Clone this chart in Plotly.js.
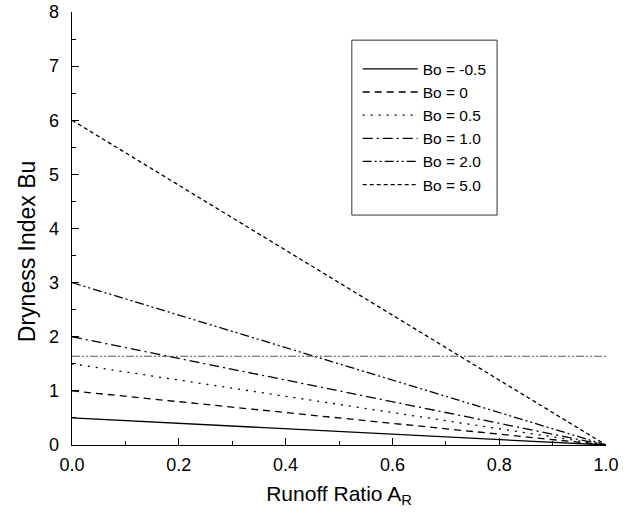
<!DOCTYPE html>
<html><head><meta charset="utf-8">
<script src="https://cdn.plot.ly/plotly-3.0.1.min.js"></script>
<style>html,body{margin:0;padding:0;background:#fff}#c{width:637px;height:514px}</style>
</head><body><div id="c"></div>
<script>
const runoffRatio = [0.0, 1.0];
const boLabels = ["Bo = -0.5", "Bo = 0", "Bo = 0.5", "Bo = 1.0", "Bo = 2.0", "Bo = 5.0"];
const buBoNeg05 = [0.5, 0.0];
const buBo0 = [1.0, 0.0];
const buBo05 = [1.5, 0.0];
const buBo1 = [2.0, 0.0];
const buBo2 = [3.0, 0.0];
const buBo5 = [6.0, 0.0];
const refLineX = [0.0, 1.0];
const refLineY = [1.64, 1.64];
const yTitle = "Dryness Index Bu";
const xTitle = "Runoff Ratio A<sub>R</sub>";

const series = [buBoNeg05, buBo0, buBo05, buBo1, buBo2, buBo5];
const dashes = ["solid", "7px,5px", "2px,6px", "10px,4px,2px,4px", "9px,3px,2px,3px,2px,3px", "4px,3px"];

const traces = series.map((ys, i) => ({
  x: runoffRatio, y: ys, name: boLabels[i], type: "scatter", mode: "lines",
  line: {color: "#000", width: 1.3, dash: dashes[i]}
}));
traces.push({
  x: refLineX, y: refLineY, type: "scatter", mode: "lines", showlegend: false,
  line: {color: "#555", width: 1, dash: "8px,2px,2px,2px,2px,2px"}, hoverinfo: "skip"
});

const FONT = "Liberation Sans, Arial, sans-serif";
const layout = {
  width: 637, height: 514,
  margin: {l: 72, r: 31, t: 12, b: 69},
  paper_bgcolor: "#fff", plot_bgcolor: "#fff",
  font: {family: FONT, color: "#000"},
  showlegend: true,
  legend: {
    x: 0.535, y: 0.907, xanchor: "left", yanchor: "top",
    borderwidth: 0, bgcolor: "rgba(0,0,0,0)",
    font: {size: 15.5, family: FONT},
    itemwidth: 55,
    tracegroupgap: 0
  },
  shapes: [{
    type: "rect", xref: "paper", yref: "paper",
    x0: 0.524, x1: 0.796, y0: 0.531, y1: 0.935,
    line: {color: "#333", width: 1}, fillcolor: "rgba(255,255,255,0)", layer: "above"
  }],
  annotations: [{
    text: yTitle, xref: "paper", yref: "paper", x: -0.084, y: 0.448,
    xanchor: "center", yanchor: "middle", textangle: -90, showarrow: false,
    font: {size: 23, family: FONT, color: "#000"}
  }],
  xaxis: {
    range: [0, 1], dtick: 0.2, tickformat: ".1f",
    showline: true, linecolor: "#000", linewidth: 1.3, mirror: false,
    ticks: "inside", ticklen: 7, tickwidth: 1.2, tickcolor: "#000",
    minor: {dtick: 0.1, ticks: "inside", ticklen: 4, tickcolor: "#000", tickwidth: 1},
    showgrid: false, zeroline: false,
    tickfont: {size: 18}, ticklabelstandoff: 3,
    title: {text: xTitle, font: {size: 21}, standoff: 12}
  },
  yaxis: {
    range: [0, 8], dtick: 1,
    showline: true, linecolor: "#000", linewidth: 1.3, mirror: false,
    ticks: "inside", ticklen: 7, tickwidth: 1.2, tickcolor: "#000",
    minor: {dtick: 0.5, ticks: "inside", ticklen: 4, tickcolor: "#000", tickwidth: 1},
    showgrid: false, zeroline: false,
    tickfont: {size: 18}, ticklabelstandoff: 8
  }
};

Plotly.newPlot("c", traces, layout, {staticPlot: true, displayModeBar: false});
</script></body></html>
